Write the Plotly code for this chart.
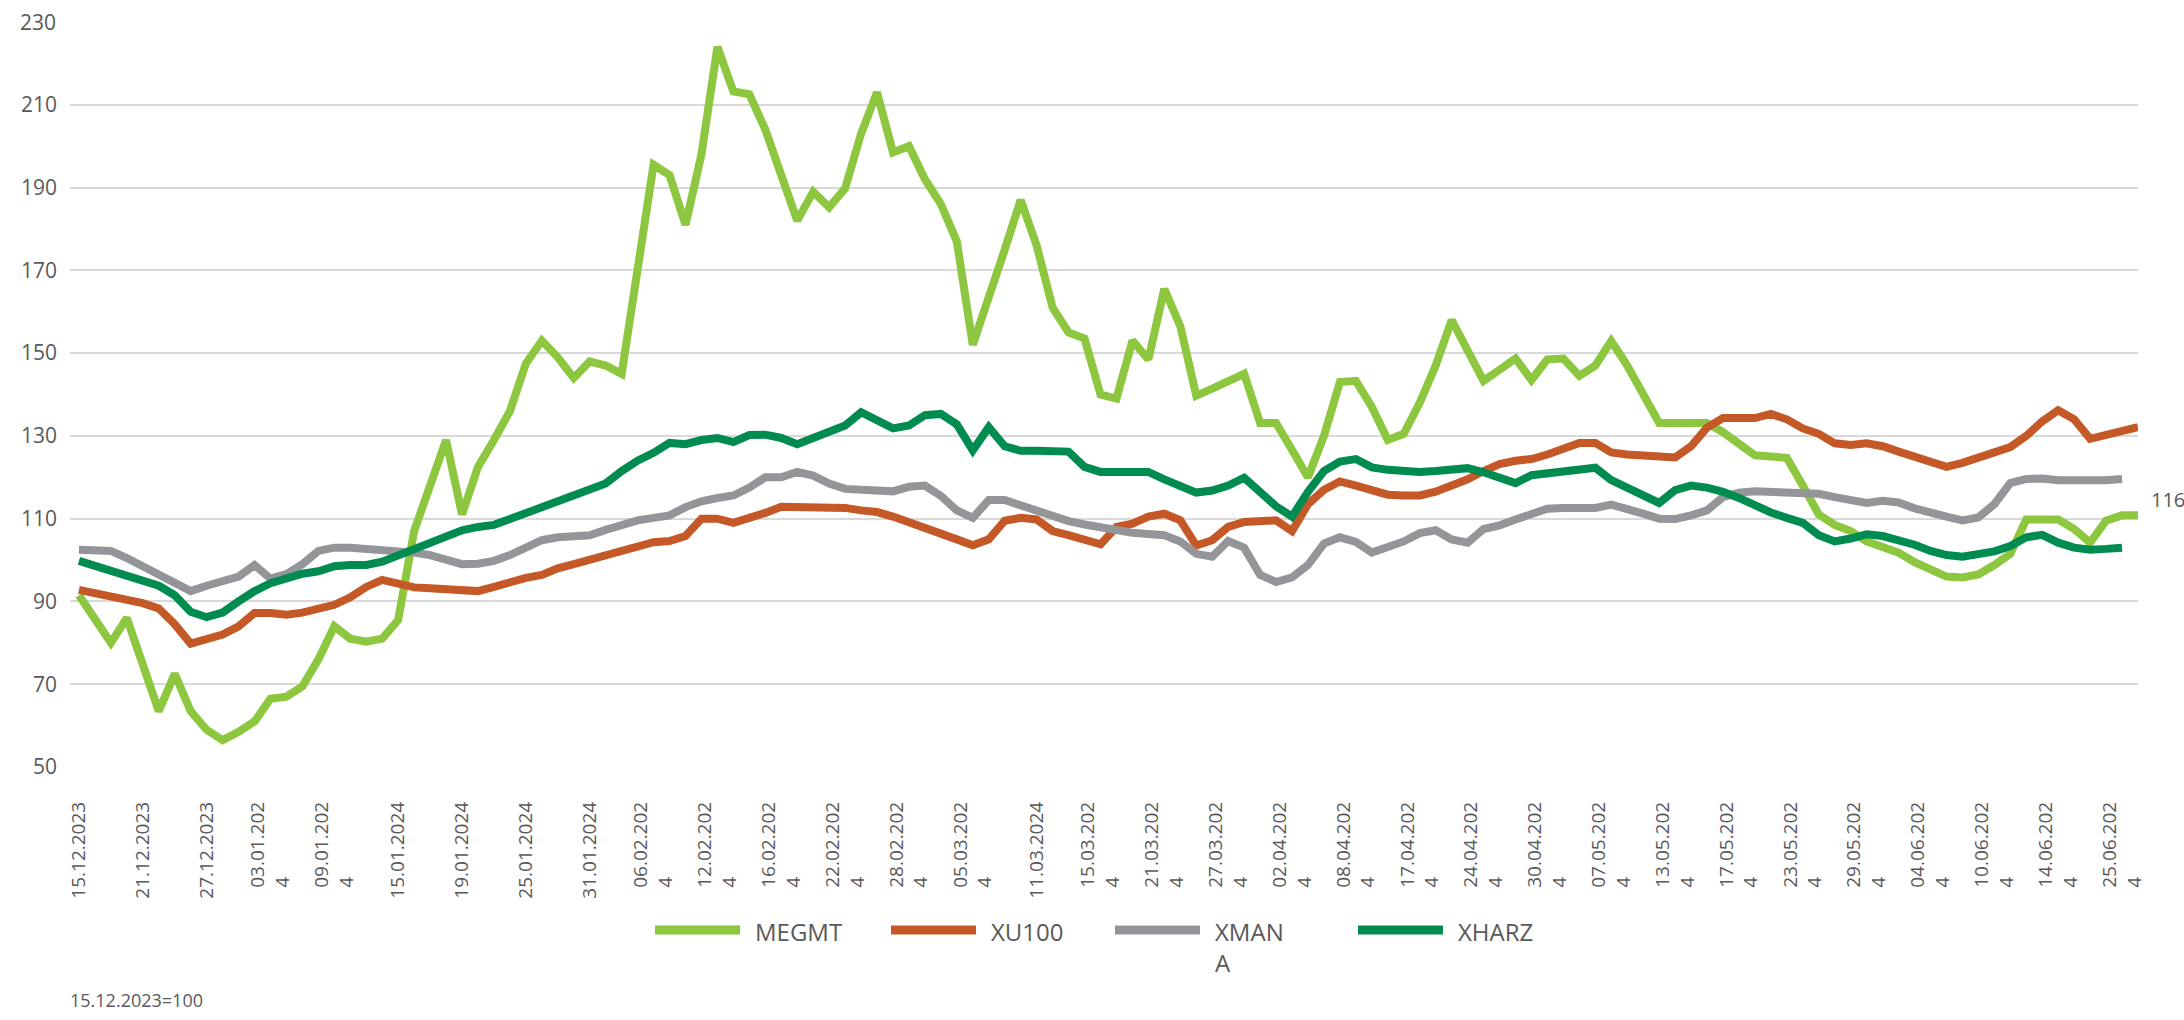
import plotly.graph_objects as go

# ---- categories: trading days 15.12.2023 - 26.06.2024 ----
dec_2023 = ["15", "18", "19", "20", "21", "22", "25", "26", "27", "28", "29"]
jan_2024 = ["02", "03", "04", "05", "08", "09", "10", "11", "12", "15", "16", "17", "18", "19",
            "22", "23", "24", "25", "26", "29", "30", "31"]
feb_2024 = ["01", "02", "05", "06", "07", "08", "09", "12", "13", "14", "15", "16", "19", "20",
            "21", "22", "23", "26", "27", "28", "29"]
mar_2024 = ["01", "04", "05", "06", "07", "08", "11", "12", "13", "14", "15", "18", "19", "20",
            "21", "22", "25", "26", "27", "28", "29"]
apr_2024 = ["01", "02", "03", "04", "05", "08", "09", "15", "16", "17", "18", "19", "22", "24",
            "25", "26", "29", "30"]
may_2024 = ["02", "03", "06", "07", "08", "09", "10", "13", "14", "15", "16", "17", "20", "21",
            "22", "23", "24", "27", "28", "29", "30", "31"]
jun_2024 = ["03", "04", "05", "06", "07", "10", "11", "12", "13", "14", "20", "21", "24", "25", "26"]

dates = ([f"{d}.12.2023" for d in dec_2023] + [f"{d}.01.2024" for d in jan_2024] +
         [f"{d}.02.2024" for d in feb_2024] + [f"{d}.03.2024" for d in mar_2024] +
         [f"{d}.04.2024" for d in apr_2024] + [f"{d}.05.2024" for d in may_2024] +
         [f"{d}.06.2024" for d in jun_2024])

# ---- series values (15.12.2023=100) ----
megmt = [91.5, 85.5, 80, 86, 74.5, 63.5, 72.5, 63.5, 59, 56.5,
         58.5, 61, 66.5, 67, 69.5, 76, 84, 81, 80.3, 81,
         85.5, 107, 118, 129, 111, 122.5, 129, 136, 147.5, 153,
         149, 144, 148, 147, 145, 170, 195.5, 193, 181, 198,
         224, 213.2, 212.5, 204, 193, 182, 189, 185.2, 189.8, 203,
         213, 198.5, 200, 192, 186, 177, 152, 163, 175, 187,
         176, 161, 155, 153.5, 140, 139, 153, 148.5, 165.5, 156.5,
         139.7, 141.4, 143.2, 145, 133.1, 133.1, 126.6, 120, 130, 143,
         143.3, 137, 129, 130.5, 138, 147, 158, 150.4, 143.3, 146,
         148.7, 143.5, 148.5, 148.7, 144.5, 147, 152.9, 147, 140, 133.1,
         133.1, 133.1, 133.1, 130.9, 128, 125.3, 125, 124.7, 118, 111,
         108.5, 107, 104.5, 103, 101.8, 99.5, 97.5, 96, 95.8, 96.5,
         98.8, 101.5, 109.8, 109.8, 109.8, 107.5, 104.2, 109.5, 110.8, 110.8]

xu100 = [92.8, 92, 91.2, 90.4, 89.6, 88.3, 84.5, 79.8, 81, 82,
         84, 87.2, 87.2, 86.8, 87.3, 88.5, 89.2, 91, 93.5, 95.2,
         94.5, 93.4, 93.2, 93, 92.8, 92.5, 93.5, 94.8, 95.7, 96.4,
         98, 99, 100.1, 101.5, 102.5, 103.5, 104.3, 104.6, 105.8, 110,
         110, 109, 110, 111.4, 112.9, 112.8, 112.6, 112.6, 112.6, 112,
         111.6, 110.5, 109, 107.5, 106.3, 105, 103.6, 105, 109.5, 110.2,
         109.8, 107, 106, 104.8, 103.8, 108, 108.8, 110.5, 111.2, 109.6,
         103.5, 104.8, 108, 109.2, 109.6, 109.6, 107, 113.5, 117, 119,
         118, 116.8, 115.8, 115.6, 115.6, 116.5, 117.9, 119.5, 121.5, 123.2,
         124, 124.4, 125.5, 127, 128.3, 128.3, 126, 125.5, 125.3, 125,
         124.8, 127.5, 132, 134.3, 134.3, 134.3, 135.3, 134, 131.8, 130.5,
         128.2, 127.8, 128.2, 127.5, 126.2, 125, 123.8, 122.5, 123.5, 124.8,
         126, 127.3, 130, 133.5, 136.2, 134, 129.3, 130.2, 131.2, 132.1]

xmana = [102.5, 102.5, 102.2, 100.5, 98.5, 96, 94, 92.5, 93.8, 94.8,
         96, 98.8, 95.5, 96.6, 99, 102.2, 103, 103, 102.8, 102.6,
         102.2, 101.8, 101.2, 100, 99, 99.1, 99.8, 101.2, 102.8, 104.8,
         105.5, 105.7, 106, 107.3, 108.5, 109.6, 110.2, 110.8, 112.8, 114.2,
         115, 115.6, 117.5, 120, 120, 121.3, 120.4, 118.5, 117.2, 116.9,
         116.9, 116.6, 117.7, 118, 115.5, 112, 110.2, 114.5, 114.5, 113.2,
         111.8, 110.3, 109.4, 108.6, 107.8, 107.2, 106.6, 106.3, 106, 104.5,
         101.5, 100.8, 104.6, 103, 96.4, 94.7, 95.8, 98.8, 104, 105.5,
         104.4, 101.8, 103, 104.5, 106.5, 107.2, 105, 104.2, 107.5, 108.4,
         109.8, 111.3, 112.4, 112.6, 112.6, 112.6, 113.4, 112.5, 111.2, 110,
         109.9, 110.8, 112, 115.2, 116.3, 116.6, 116.5, 116.4, 116.2, 116,
         115.2, 114.4, 113.8, 114.3, 113.9, 112.5, 111.3, 110.5, 109.6, 110.3,
         113.5, 118.6, 119.6, 119.7, 119.3, 119.2, 119.2, 119.3, 119.6]

xharz = [99.8, 98.6, 97.2, 95.8, 94.5, 93.8, 91.5, 87.5, 86.2, 87.3,
         90, 92.5, 94.4, 95.8, 96.7, 97.3, 98.5, 98.8, 98.8, 99.6,
         101.2, 102.5, 104.2, 105.8, 107.2, 108, 108.5, 109.9, 111.3, 112.8,
         114.2, 115.6, 117, 118.5, 121.5, 124, 125.9, 128.3, 128, 129,
         129.5, 128.5, 130.2, 130.3, 129.5, 128, 129.5, 130.8, 132.5, 135.7,
         134, 131.8, 132.5, 135, 135.3, 132.8, 126.5, 132.1, 127.5, 126.4,
         126.4, 126.3, 126.2, 122.5, 121.3, 121.3, 121.3, 121.3, 119.5, 118,
         116.3, 116.8, 118, 119.9, 116.5, 113, 110.5, 116.5, 121.5, 123.8,
         124.4, 122.4, 121.8, 121.4, 121.3, 121.5, 121.7, 122.2, 121.2, 119.9,
         118.6, 120.5, 121, 121.5, 122, 122.3, 119.3, 117.6, 115.5, 113.8,
         116.9, 118, 117.5, 116.5, 115, 113.2, 111.5, 110.2, 109, 106,
         104.5, 105.2, 106.2, 105.8, 104.8, 103.7, 102.2, 101.2, 100.8, 101.4,
         102.1, 103.4, 105.5, 106.1, 104.2, 103, 102.5, 102.7, 103]

series_names = ["MEGMT", "XU100", "XMANA", "XHARZ"]
series_values = [megmt, xu100, xmana, xharz]
series_colors = ["#8DC63F", "#C45827", "#939598", "#008C50"]
legend_labels = ["MEGMT", "XU100", "XMAN\nA", "XHARZ"]

# tick labels as printed (| marks the line wrap)
tick_labels = ["15.12.2023", "21.12.2023", "27.12.2023", "03.01.202|4", "09.01.202|4",
               "15.01.2024", "19.01.2024", "25.01.2024", "31.01.2024", "06.02.202|4",
               "12.02.202|4", "16.02.202|4", "22.02.202|4", "28.02.202|4", "05.03.202|4",
               "11.03.2024", "15.03.202|4", "21.03.202|4", "27.03.202|4", "02.04.202|4",
               "08.04.202|4", "17.04.202|4", "24.04.202|4", "30.04.202|4", "07.05.202|4",
               "13.05.202|4", "17.05.202|4", "23.05.202|4", "29.05.202|4", "04.06.202|4",
               "10.06.202|4", "14.06.202|4", "25.06.202|4"]
y_ticks = [50, 70, 90, 110, 130, 150, 170, 190, 210, 230]
base_note = "15.12.2023=100"
end_label = "116"

# ---- layout constants (pixels) ----
W, H = 2184, 1020
L, R, T, B = 70, 2138, 22, 767
FONT = "Open Sans"
TXT = "#595959"


def px_x(px):
    return (px - L) / (R - L)


def px_y(py):
    return (B - py) / (B - T)


def fmt_tick(lbl):
    if "|" not in lbl:
        return lbl
    first, second = lbl.split("|")
    rest = first[len(second):]
    pad = "".join("\u2007" if c.isdigit() else "\u2008" for c in rest)
    return first + "<br>" + second + pad


fig = go.Figure()
for name, vals, col in zip(series_names, series_values, series_colors):
    fig.add_trace(go.Scatter(x=dates[:len(vals)], y=vals, mode="lines", name=name,
                             line=dict(color=col, width=8), cliponaxis=False,
                             showlegend=False, hoverinfo="x+y+name"))

fig.update_layout(
    width=W, height=H,
    margin=dict(l=L, r=W - R, t=T, b=H - B, pad=0),
    paper_bgcolor="white", plot_bgcolor="white",
    font=dict(family=FONT, color=TXT),
    xaxis=dict(type="category", range=[-0.56, len(dates) - 1],
               tickmode="array", tickvals=dates[::4],
               ticktext=[fmt_tick(t) for t in tick_labels],
               tickangle=-90, showgrid=False, showline=False, zeroline=False,
               ticks="", tickfont=dict(size=19, color=TXT, family=FONT),
               ticklabelstandoff=30, automargin=False),
    yaxis=dict(range=[y_ticks[0], y_ticks[-1]], tickmode="array", tickvals=y_ticks[:-1],
               showgrid=True, gridcolor="#D9D9D9", gridwidth=1.5, zeroline=False,
               showline=False, ticks="", tickfont=dict(size=21, color=TXT, family=FONT),
               ticklabelstandoff=12, automargin=False),
)

annotations = [
    dict(text=str(y_ticks[-1]), xref="paper", yref="y", x=0, y=y_ticks[-1], xanchor="right",
         yanchor="middle", xshift=-12, showarrow=False, font=dict(size=21, color=TXT)),
    dict(text=end_label, xref="paper", yref="paper", x=px_x(2149), y=px_y(499),
         xanchor="left", yanchor="middle", showarrow=False, font=dict(size=20, color=TXT)),
    dict(text=base_note, xref="paper", yref="paper", x=px_x(68), y=px_y(1000),
         xanchor="left", yanchor="middle", showarrow=False, font=dict(size=18, color=TXT)),
]

shapes = []
swatch_x0 = [655, 891, 1115, 1358]
swatch_len = 85
leg_y = 930
for x0, lbl, col in zip(swatch_x0, legend_labels, series_colors):
    shapes.append(dict(type="line", xref="paper", yref="paper",
                       x0=px_x(x0), x1=px_x(x0 + swatch_len), y0=px_y(leg_y), y1=px_y(leg_y),
                       line=dict(color=col, width=9)))
    annotations.append(dict(text=lbl.replace("\n", "<br>"), xref="paper", yref="paper",
                            x=px_x(x0 + swatch_len + 13), y=px_y(leg_y - 17),
                            xanchor="left", yanchor="top", align="left", showarrow=False,
                            font=dict(size=24, color=TXT)))

fig.update_layout(annotations=annotations, shapes=shapes)

fig.write_html("out.html", config={"displayModeBar": False},
               post_script="document.body.style.margin='0';document.body.style.overflow='hidden';")
